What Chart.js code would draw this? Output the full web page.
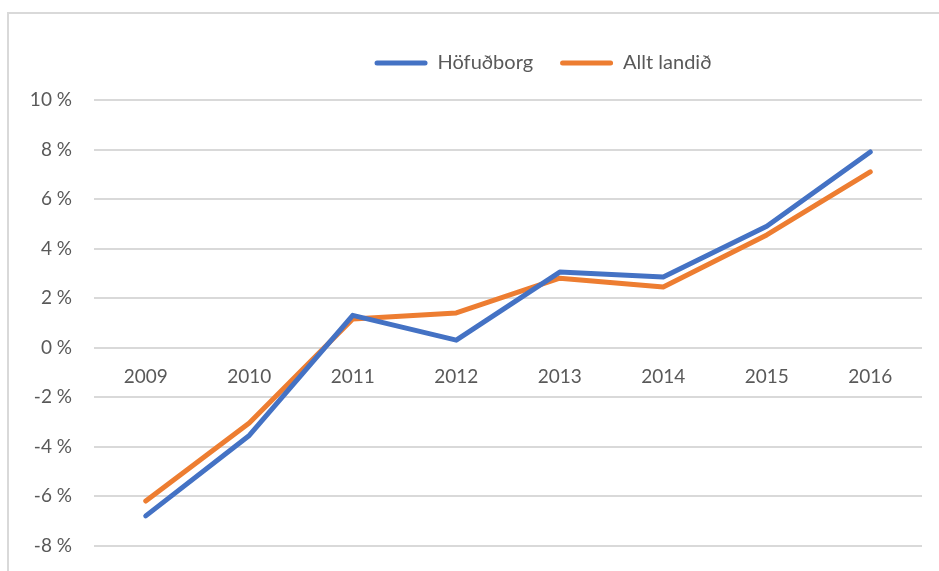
<!DOCTYPE html>
<html>
<head>
<meta charset="utf-8">
<script src="https://cdn.jsdelivr.net/npm/chart.js@4/dist/chart.umd.min.js"></script>
<style>
  html, body { margin: 0; padding: 0; background: #fff; overflow: hidden; }
  #frame {
    position: absolute; left: 7px; top: 12px;
    width: 1000px; height: 700px;
    border: 2px solid #d9d9d9; box-sizing: border-box;
  }
  #wrap { position: absolute; left: 0; top: 0; width: 939px; height: 579px; }
</style>
</head>
<body>
<div id="frame"></div>
<div id="wrap"><canvas id="chartVerd"></canvas></div>
<script>
// ar og breyting i prosentum
const years = ['2009', '2010', '2011', '2012', '2013', '2014', '2015', '2016'];
const hofudborg = [-6.8, -3.55, 1.3, 0.3, 3.05, 2.85, 4.9, 7.9];
const alltLandid = [-6.2, -3.05, 1.15, 1.4, 2.8, 2.45, 4.55, 7.1];
const yTicks = [-8, -6, -4, -2, 0, 2, 4, 6, 8, 10];

const txtColor = '#595959';
const gridColor = '#d9d9d9';
const fontFam = 'Lato, "Open Sans", sans-serif';

// fixed legend height, and the legend sits a bit right of centre
// (the original chart box is wider than the visible picture)
const legendPad = {
    id: 'legendPad',
    beforeInit(chart) {
        const fit = chart.legend.fit;
        chart.legend.fit = function () {
            fit.bind(chart.legend)();
            this.height = 74;
        };
    },
    afterLayout(chart) {
        chart.legend.left += 82;
        chart.legend.right += 82;
    }
};

new Chart(document.getElementById('chartVerd').getContext('2d'), {
    type: 'line',
    data: {
        labels: years,
        datasets: [{
            label: 'Höfuðborg',
            data: hofudborg,
            borderColor: '#4472C4',
            backgroundColor: '#4472C4',
            borderWidth: 5,
            pointRadius: 0,
            borderCapStyle: 'round',
            borderJoinStyle: 'round',
            tension: 0
        }, {
            label: 'Allt landið',
            data: alltLandid,
            borderColor: '#ED7D31',
            backgroundColor: '#ED7D31',
            borderWidth: 5,
            pointRadius: 0,
            borderCapStyle: 'round',
            borderJoinStyle: 'round',
            tension: 0
        }]
    },
    options: {
        responsive: true,
        maintainAspectRatio: false,
        animation: false,
        layout: { padding: { left: 0, right: 17, top: 26, bottom: 19 } },
        plugins: {
            legend: {
                position: 'top',
                labels: {
                    color: txtColor,
                    font: { family: fontFam, size: 20 },
                    boxWidth: 53,
                    boxHeight: 5,
                    padding: 27,
                    useBorderRadius: true,
                    borderRadius: 2.5,
                    generateLabels: chart => Chart.defaults.plugins.legend.labels.generateLabels(chart)
                        .map(l => Object.assign(l, { lineWidth: 0, fillStyle: l.strokeStyle }))
                }
            },
            tooltip: { enabled: false }
        },
        scales: {
            x: {
                offset: true,
                position: { y: 0 },
                afterFit: s => { s.height = 0; },
                grid: { display: false, drawTicks: false },
                border: { display: false },
                ticks: {
                    color: txtColor,
                    font: { family: fontFam, size: 19 },
                    padding: 18,
                    maxRotation: 0
                }
            },
            y: {
                min: -8,
                max: 10,
                afterFit: s => { s.width = 94; },
                afterBuildTicks: s => { s.ticks = yTicks.map(v => ({ value: v })); },
                grid: { color: gridColor, lineWidth: 2, drawTicks: false },
                border: { display: false },
                ticks: {
                    color: txtColor,
                    font: { family: fontFam, size: 19 },
                    padding: 22,
                    callback: v => v + ' %'
                }
            }
        }
    },
    plugins: [legendPad]
});
</script>
</body>
</html>
